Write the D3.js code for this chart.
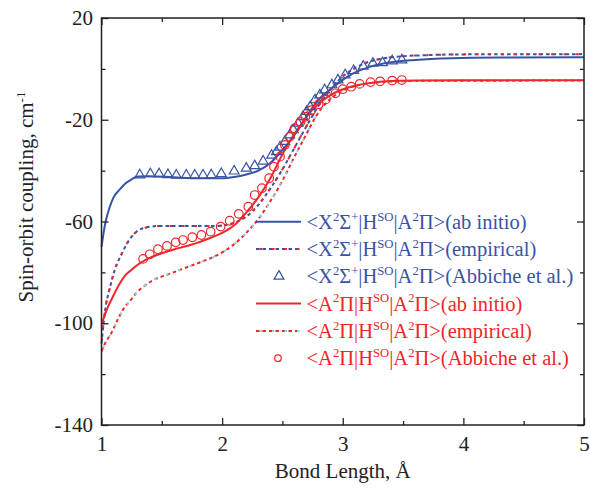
<!DOCTYPE html>
<html>
<head>
<meta charset="utf-8">
<script src="https://cdn.jsdelivr.net/npm/d3@7"></script>
<style>
  body { margin: 0; background: #fff; }
  text { font-family: "Liberation Serif", "Times New Roman", serif; }
</style>
</head>
<body>
<script>
// bond length grids and values
const xAbX = [1.0, 1.03, 1.06, 1.1, 1.15, 1.2, 1.25, 1.3, 1.4, 1.6, 1.8, 2.0, 2.1, 2.2, 2.3, 2.4, 2.48, 2.56, 2.65, 2.73, 2.81, 2.89, 2.98, 3.09, 3.23, 3.4, 3.6, 3.9, 4.3, 5.0];
const yAbX = [-70, -61, -55.5, -50.5, -47.5, -45, -43.4, -42.3, -42.2, -42.6, -43, -43, -42.5, -41.5, -40, -37, -33, -28.5, -22.5, -16.5, -11.6, -8.3, -5, -1.7, 0.9, 2.6, 3.5, 4.2, 4.5, 4.6];

const xEmpX = [1.0, 1.03, 1.07, 1.11, 1.17, 1.22, 1.29, 1.375, 1.47, 1.7, 1.9, 2.0, 2.1, 2.2, 2.3, 2.4, 2.5, 2.6, 2.7, 2.8, 2.9, 3.0, 3.1, 3.2, 3.3, 3.45, 3.7, 4.0, 5.0];
const yEmpX = [-108, -95, -86, -79, -72.5, -68, -64, -62.3, -61.8, -61.8, -61.8, -61.6, -60.5, -58, -53.5, -47, -39.5, -31, -22.5, -14.5, -8, -3, 0.3, 2.5, 3.8, 4.8, 5.4, 5.7, 5.8];

const xAbA = [1.0, 1.05, 1.1, 1.15, 1.2, 1.25, 1.3, 1.4, 1.5, 1.6, 1.7, 1.8, 1.9, 2.0, 2.1, 2.2, 2.3, 2.4, 2.49, 2.58, 2.66, 2.74, 2.84, 2.95, 3.09, 3.23, 3.4, 3.6, 4.0, 5.0];
const yAbA = [-100.5, -94, -89, -84.5, -81, -79, -77, -74.3, -72.5, -71, -69.7, -68.3, -66.5, -64.5, -61.5, -56.5, -50.5, -43, -34.5, -27, -21.4, -16.5, -12.2, -9, -6.8, -5.5, -4.8, -4.6, -4.5, -4.5];

const xEmpA = [1.0, 1.04, 1.08, 1.14, 1.18, 1.24, 1.29, 1.36, 1.43, 1.54, 1.68, 1.82, 1.96, 2.09, 2.2, 2.3, 2.4, 2.5, 2.6, 2.7, 2.78, 2.86, 2.95, 3.05, 3.2, 3.4, 3.7, 5.0];
const yEmpA = [-111, -107, -104, -98, -94.5, -91, -88, -85.2, -83, -81, -78.5, -76, -73.2, -69.3, -64.5, -59, -52, -44, -34.5, -25.5, -18.5, -13.5, -10, -7.5, -5.8, -5, -4.7, -4.6];

// Abbiche et al. points
const xTri = [1.317, 1.405, 1.477, 1.551, 1.62, 1.703, 1.773, 1.842, 1.91, 1.993, 2.10, 2.20, 2.27, 2.34, 2.41, 2.45, 2.48, 2.52, 2.56, 2.59, 2.63, 2.67, 2.70, 2.73, 2.77, 2.81, 2.85, 2.91, 2.96, 3.02, 3.09, 3.17, 3.25, 3.33, 3.41, 3.49];
const yTri = [-41.7, -41.3, -41.3, -41.6, -41.8, -41.8, -41.8, -41.8, -41.7, -41.2, -40.2, -39.1, -38.1, -36.3, -34.0, -32.6, -30.8, -28.6, -26.0, -24, -21.4, -18.8, -16.8, -14.9, -12.2, -10.3, -8.3, -6.3, -4.4, -2.4, -0.7, 1.0, 2.2, 2.4, 3.1, 3.5];

const xCirc = [1.345, 1.40, 1.468, 1.543, 1.615, 1.676, 1.753, 1.828, 1.905, 1.988, 2.063, 2.138, 2.217, 2.27, 2.33, 2.39, 2.43, 2.48, 2.52, 2.56, 2.60, 2.65, 2.69, 2.74, 2.80, 2.86, 2.94, 3.00, 3.07, 3.14, 3.23, 3.31, 3.41, 3.49];
const yCirc = [-74.7, -72.9, -70.9, -69.6, -68.2, -67.3, -66.2, -65.3, -64.0, -62.0, -59.7, -57.0, -54.2, -49.6, -46.9, -43, -38.5, -34.5, -29.9, -26.7, -23.4, -20.8, -18.8, -16.2, -13.9, -12, -9.6, -8.0, -7.0, -5.9, -5.2, -4.9, -4.6, -4.4];

const xMajor = [1, 2, 3, 4, 5];
const xMinor = [1.5, 2.5, 3.5, 4.5];
const yMajor = [20, -20, -60, -100, -140];
const yMinor = [0, -40, -80, -120];

const blue = "#3953a4", red = "#f0262b", cyan = "#8fd3e0";
const fontSize = 21;

const width = 590, height = 490,
    margin = { top: 18, right: 6, bottom: 65, left: 101.5 };
const W = width - margin.left - margin.right,
    H = height - margin.top - margin.bottom;

const svg = d3.select("body").append("svg")
    .attr("width", width)
    .attr("height", height);
const g = svg.append("g").attr("transform", `translate(${margin.left},${margin.top})`);

const x = d3.scaleLinear().domain([1, 5]).range([0, W]);
const y = d3.scaleLinear().domain([-140, 20]).range([H, 0]);

const zip = (xs, ys) => xs.map((v, i) => [v, ys[i]]);
const line = d3.line().x(d => x(d[0])).y(d => y(d[1])).curve(d3.curveMonotoneX);

const plot = g.append("g");

// empirical curves (dashed, with a second colour mixed in)
plot.append("path").datum(zip(xEmpA, yEmpA))
    .attr("d", line).attr("fill", "none")
    .attr("stroke", red).attr("stroke-width", 2).attr("stroke-dasharray", "3.5 3");
plot.append("path").datum(zip(xEmpA, yEmpA))
    .attr("d", line).attr("fill", "none")
    .attr("stroke", cyan).attr("stroke-width", 2).attr("stroke-dasharray", "2.5 10").attr("stroke-dashoffset", -3.5);
plot.append("path").datum(zip(xEmpX, yEmpX))
    .attr("d", line).attr("fill", "none")
    .attr("stroke", blue).attr("stroke-width", 2).attr("stroke-dasharray", "3.5 3");
plot.append("path").datum(zip(xEmpX, yEmpX))
    .attr("d", line).attr("fill", "none")
    .attr("stroke", red).attr("stroke-width", 2).attr("stroke-dasharray", "2.5 10").attr("stroke-dashoffset", -3.5);

// ab initio curves
plot.append("path").datum(zip(xAbX, yAbX))
    .attr("d", line).attr("fill", "none")
    .attr("stroke", blue).attr("stroke-width", 2);
plot.append("path").datum(zip(xAbA, yAbA))
    .attr("d", line).attr("fill", "none")
    .attr("stroke", red).attr("stroke-width", 2);

// markers
const tri = d3.symbol().type(d3.symbolTriangle).size(42);
plot.selectAll(".tri").data(zip(xTri, yTri)).enter().append("path")
    .attr("class", "tri")
    .attr("d", tri)
    .attr("transform", d => `translate(${x(d[0])},${y(d[1])})`)
    .attr("fill", "none").attr("stroke", blue).attr("stroke-width", 1.2);
plot.selectAll(".circ").data(zip(xCirc, yCirc)).enter().append("circle")
    .attr("class", "circ")
    .attr("cx", d => x(d[0])).attr("cy", d => y(d[1])).attr("r", 4.3)
    .attr("fill", "none").attr("stroke", red).attr("stroke-width", 1.2);

// axes: inward ticks on all four sides
function styleAxis(sel) {
    sel.attr("font-size", fontSize).attr("font-family", "'Liberation Serif', serif");
    sel.select(".domain").remove();
    sel.selectAll("line").attr("stroke", "#222").attr("stroke-width", 1.3);
    sel.selectAll("text").attr("fill", "#222").attr("font-size", fontSize);
}
const fmt = d => String(d);
g.append("g").attr("transform", `translate(0,${H})`)
    .call(d3.axisBottom(x).tickValues(xMajor).tickSizeInner(-7).tickSizeOuter(0).tickPadding(10.8).tickFormat(fmt))
    .call(styleAxis);
g.append("g").attr("transform", `translate(0,${H})`)
    .call(d3.axisBottom(x).tickValues(xMinor).tickSizeInner(-4).tickSizeOuter(0).tickFormat(""))
    .call(styleAxis);
g.append("g")
    .call(d3.axisTop(x).tickValues(xMajor).tickSizeInner(-7).tickSizeOuter(0).tickFormat(""))
    .call(styleAxis);
g.append("g")
    .call(d3.axisTop(x).tickValues(xMinor).tickSizeInner(-4).tickSizeOuter(0).tickFormat(""))
    .call(styleAxis);
g.append("g")
    .call(d3.axisLeft(y).tickValues(yMajor).tickSizeInner(-7).tickSizeOuter(0).tickPadding(8.5).tickFormat(fmt))
    .call(styleAxis);
g.append("g")
    .call(d3.axisLeft(y).tickValues(yMinor).tickSizeInner(-4).tickSizeOuter(0).tickFormat(""))
    .call(styleAxis);
g.append("g").attr("transform", `translate(${W},0)`)
    .call(d3.axisRight(y).tickValues(yMajor).tickSizeInner(-7).tickSizeOuter(0).tickFormat(""))
    .call(styleAxis);
g.append("g").attr("transform", `translate(${W},0)`)
    .call(d3.axisRight(y).tickValues(yMinor).tickSizeInner(-4).tickSizeOuter(0).tickFormat(""))
    .call(styleAxis);

g.append("rect")
    .attr("width", W).attr("height", H)
    .attr("fill", "none").attr("stroke", "#222").attr("stroke-width", 1.5);

// rich text with superscripts: parts are [string, isSup]
function richText(sel, parts, size) {
    sel.attr("font-size", size);
    let raised = false;
    parts.forEach(p => {
        const sup = p[1];
        let dy = 0;
        if (sup && !raised) dy = -0.4 * size;
        if (!sup && raised) dy = 0.4 * size;
        raised = sup;
        sel.append("tspan")
            .attr("dy", dy)
            .attr("font-size", sup ? size * 0.62 : size)
            .text(p[0]);
    });
}

// axis titles
svg.append("text")
    .attr("x", margin.left + W / 2).attr("y", 478)
    .attr("text-anchor", "middle").attr("fill", "#222")
    .attr("font-size", fontSize)
    .text("Bond Length, \u00c5");

const yt = svg.append("text")
    .attr("transform", "translate(33,197) rotate(-90)")
    .attr("text-anchor", "middle").attr("fill", "#222");
richText(yt, [["Spin-orbit coupling, cm", false], ["-1", true]], fontSize);

// legend
const X2S = [["<X", false], ["2", true], ["\u03a3", false], ["+", true], ["|H", false], ["SO", true], ["|A", false], ["2", true], ["\u03a0>", false]];
const A2P = [["<A", false], ["2", true], ["\u03a0|H", false], ["SO", true], ["|A", false], ["2", true], ["\u03a0>", false]];
const legendItems = [
    { parts: X2S.concat([["(ab initio)", false]]), color: blue, kind: "solid" },
    { parts: X2S.concat([["(empirical)", false]]), color: blue, kind: "dash", mix: red },
    { parts: X2S.concat([["(Abbiche et al.)", false]]), color: blue, kind: "tri" },
    { parts: A2P.concat([["(ab initio)", false]]), color: red, kind: "solid" },
    { parts: A2P.concat([["(empirical)", false]]), color: red, kind: "dash", mix: cyan },
    { parts: A2P.concat([["(Abbiche et al.)", false]]), color: red, kind: "circ" }
];
const legend = svg.append("g").attr("transform", "translate(256,221.7)");
legendItems.forEach((it, i) => {
    const row = legend.append("g").attr("transform", `translate(0,${i * 27.3})`);
    if (it.kind === "solid" || it.kind === "dash") {
        row.append("line").attr("x1", 0).attr("x2", 45).attr("y1", 0).attr("y2", 0)
            .attr("stroke", it.color).attr("stroke-width", 2)
            .attr("stroke-dasharray", it.kind === "dash" ? "3.5 3" : null);
        if (it.mix) row.append("line").attr("x1", 0).attr("x2", 45).attr("y1", 0).attr("y2", 0)
            .attr("stroke", it.mix).attr("stroke-width", 2)
            .attr("stroke-dasharray", "2.5 10").attr("stroke-dashoffset", -16);
    } else if (it.kind === "tri") {
        row.append("path").attr("d", tri).attr("transform", "translate(23,0)")
            .attr("fill", "none").attr("stroke", it.color).attr("stroke-width", 1.2);
    } else {
        row.append("circle").attr("cx", 22).attr("cy", 0).attr("r", 3.3)
            .attr("fill", "none").attr("stroke", it.color).attr("stroke-width", 1.2);
    }
    const t = row.append("text").attr("x", 50.5).attr("y", 7).attr("fill", it.color);
    richText(t, it.parts, 20.5);
});
</script>
</body>
</html>
